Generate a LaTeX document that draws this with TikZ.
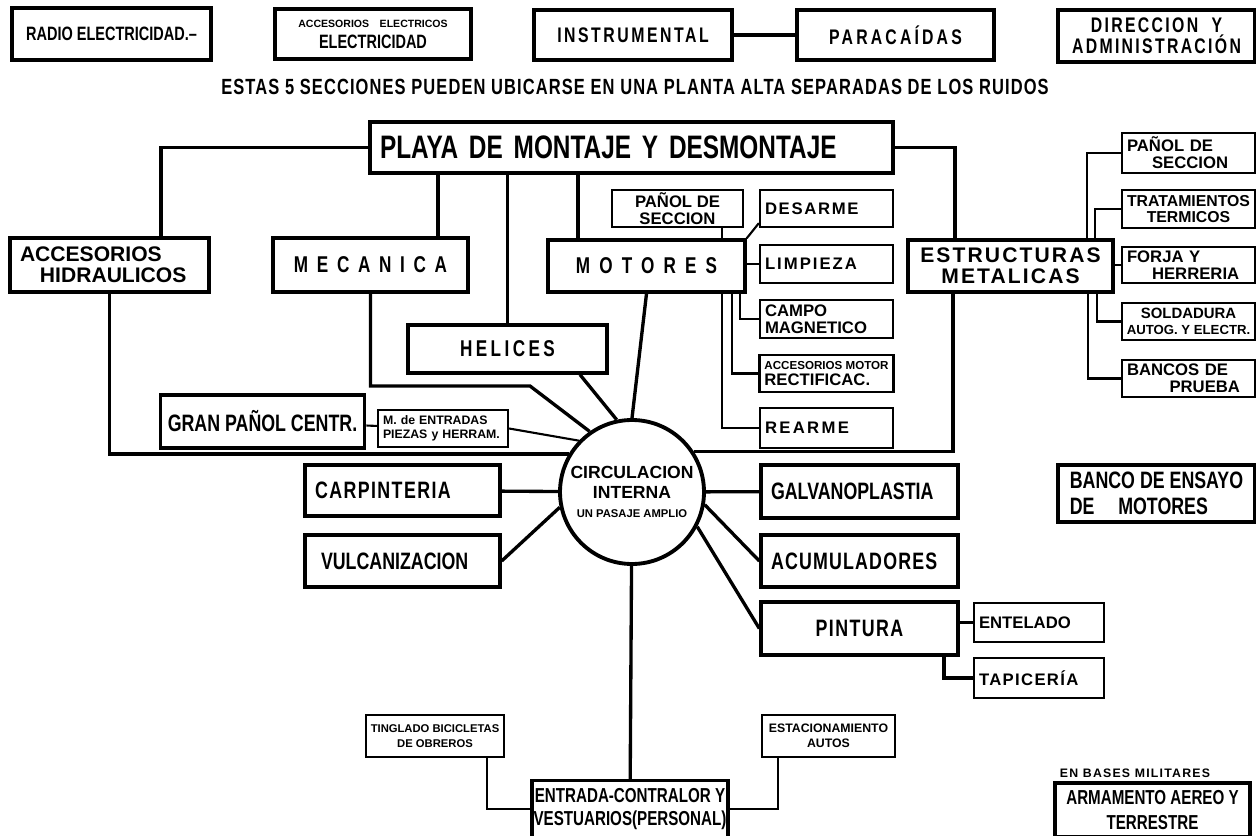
\documentclass[tikz,border=0pt]{standalone}
\usepackage{fontspec}
\usepackage{tikz}
\newfontfamily\handn[FakeStretch=0.75]{Liberation Sans}
\newfontfamily\handw{Liberation Sans}
\newcommand\hfont[2]{\handn\bfseries\fontsize{#1}{#2}\selectfont}
\newcommand\wfont[2]{\handw\bfseries\fontsize{#1}{#2}\selectfont}
\newcommand\lsp[1]{\addfontfeature{LetterSpace=#1}}

\begin{document}
\begin{tikzpicture}[
    x=1cm, y=1cm,
    box/.style={
      draw,
      line width=1.9pt,
      inner sep=0.15cm,
      minimum width=3.94cm,
      minimum height=1.04cm,
      align=center,
      font=\hfont{13.5}{15}
    },
    lbox/.style={box, align=left, inner xsep=0.2cm, text width=#1},
    sub/.style={
      draw,
      line width=1.3pt,
      inner xsep=0.1cm,
      inner ysep=0.04cm,
      minimum width=2.66cm,
      minimum height=0.76cm,
      align=center,
      font=\wfont{9.5}{9.5}
    },
    lsub/.style={sub, align=left, text width=#1},
    link/.style={line width=1.9pt},
    thin/.style={line width=1.2pt}
  ]
    \fill[white] (0,0) rectangle (25.12,-16.72);
    \useasboundingbox (0,0) rectangle (25.12,-16.72);

    \node[box, minimum width=3.98cm, font=\hfont{11}{12}] (radio) at (2.23,-0.68) {RADIO ELECTRICIDAD.–};
    \node[box, minimum width=3.92cm, minimum height=1.0cm, font=\hfont{11}{12}] (elec) at (7.46,-0.68) {{\wfont{6}{7}ACCESORIOS\quad ELECTRICOS}\\ELECTRICIDAD};
    \node[box, minimum width=3.96cm, minimum height=1.0cm, font=\hfont{12}{13}\lsp{12}] (instr) at (12.66,-0.70) {INSTRUMENTAL};
    \node[box, minimum height=1.0cm, font=\hfont{12}{13}\lsp{15}] (para) at (17.91,-0.70) {PARACAÍDAS};
    \node[box, inner xsep=0.05cm, font=\hfont{12}{10.5}\lsp{11}] (dir) at (23.13,-0.72) {DIRECCION\ \ Y\\ADMINISTRACIÓN};
    \draw[link] (instr) -- (para);
    \node[font=\hfont{12.5}{13}\lsp{5}] (note) at (12.70,-1.74) {ESTAS 5 SECCIONES PUEDEN UBICARSE EN UNA PLANTA ALTA SEPARADAS DE LOS RUIDOS};

    \node[lbox=10.06cm, minimum width=10.46cm, minimum height=1.02cm, font=\hfont{18.5}{20}] (playa) at (12.63,-2.95) {PLAYA DE MONTAJE Y DESMONTAJE};
    \node[lbox=3.58cm, minimum width=3.98cm, minimum height=1.08cm, font=\wfont{12}{12}] (acchid) at (2.19,-5.30) {ACCESORIOS\\\hspace*{0.4cm}HIDRAULICOS};
    \node[box, minimum width=3.9cm, minimum height=1.08cm, font=\hfont{13}{14}\lsp{38}] (mecanica) at (7.41,-5.30) {MECANICA};
    \node[box, font=\hfont{13}{14}\lsp{40}] (motores) at (12.93,-5.32) {MOTORES};
    \node[box, minimum width=4.1cm, font=\wfont{12}{12}\lsp{10}] (estruct) at (20.21,-5.32) {ESTRUCTURAS\\METALICAS};
    \node[box, minimum width=3.98cm, minimum height=0.96cm, font=\hfont{13}{14}\lsp{15}] (helices) at (10.15,-6.98) {HELICES};
    \node[box, minimum width=3.98cm, minimum height=1.06cm] (gpanol) at (5.25,-8.43) {GRAN PAÑOL CENTR.};
    \node[lsub=2.4cm, minimum width=2.6cm, minimum height=0.74cm, font=\wfont{7}{8}] (mentr) at (8.86,-8.57) {M. de ENTRADAS\\PIEZAS y HERRAM.};
    \node[lbox=3.5cm, minimum width=3.9cm, minimum height=1.02cm, font=\hfont{13.5}{15}\lsp{6}] (carp) at (8.05,-9.81) {CARPINTERIA};
    \node[lbox=3.5cm, minimum width=3.9cm] (vulc) at (8.05,-11.22) {\hspace*{0.12cm}VULCANIZACION};
    \node[circle, draw, line width=2.2pt, minimum size=2.88cm, inner sep=0pt, align=center, font=\wfont{10}{11}] (circ) at (12.64,-9.84) {CIRCULACION\\INTERNA\\{\wfont{6.4}{7}UN PASAJE AMPLIO}};
    \node[lbox=3.54cm, minimum height=1.06cm] (galv) at (17.19,-9.83) {GALVANOPLASTIA};
    \node[lbox=3.54cm, font=\hfont{13.5}{15}\lsp{5}] (acum) at (17.19,-11.22) {ACUMULADORES};
    \node[box, minimum height=1.06cm, font=\hfont{13.5}{15}\lsp{6}] (pint) at (17.19,-12.57) {PINTURA};
    \node[lsub=2.4cm, minimum width=2.6cm, minimum height=0.78cm] (entel) at (20.78,-12.45) {ENTELADO};
    \node[lsub=2.4cm, minimum width=2.6cm, minimum height=0.8cm, font=\wfont{9.5}{9.5}\lsp{8}] (tapic) at (20.78,-13.56) {TAPICERÍA};
    \node[box, align=left, minimum height=1.06cm, font=\hfont{13.5}{14.5}] (banco) at (23.13,-9.87) {BANCO DE ENSAYO\\DE\quad MOTORES};

    \node[box, minimum width=3.92cm, inner xsep=0.02cm, font=\hfont{11.5}{13.5}] (entrada) at (12.60,-16.18) {ENTRADA-CONTRALOR Y\\VESTUARIOS(PERSONAL)};
    \node[sub, minimum width=2.68cm, minimum height=0.84cm, font=\wfont{6.4}{8.5}] (tingl) at (8.70,-14.72) {TINGLADO BICICLETAS\\DE OBREROS};
    \node[sub, minimum height=0.84cm, font=\wfont{7}{8.5}] (estac) at (16.57,-14.72) {ESTACIONAMIENTO\\AUTOS};
    \node[font=\wfont{7}{8}\lsp{10}] (milit) at (22.70,-15.46) {EN BASES MILITARES};
    \node[box, minimum width=3.9cm, minimum height=1.08cm, font=\hfont{11.5}{14}] (armam) at (23.05,-16.20) {ARMAMENTO AEREO Y\\TERRESTRE};

    \node[sub, minimum width=2.62cm, minimum height=0.74cm] (mpanol) at (13.55,-4.17) {PAÑOL DE\\SECCION};
    \node[lsub=2.46cm, minimum height=0.74cm, font=\wfont{9.5}{9.5}\lsp{10}] (desarme) at (16.53,-4.17) {DESARME};
    \node[lsub=2.46cm, font=\wfont{9.5}{9.5}\lsp{12}] (limp) at (16.53,-5.28) {LIMPIEZA};
    \node[lsub=2.46cm] (campo) at (16.53,-6.38) {CAMPO\\MAGNETICO};
    \node[sub, align=left, minimum height=0.74cm] (accmot) at (16.53,-7.47) {{\wfont{6.6}{7}ACCESORIOS MOTOR}\\RECTIFICAC.};
    \node[lsub=2.46cm, minimum height=0.8cm, font=\wfont{9.5}{9.5}\lsp{14}] (rearme) at (16.53,-8.56) {REARME};

    \node[lsub=2.46cm, minimum height=0.8cm] (epanol) at (23.77,-3.06) {PAÑOL DE\\\hspace*{0.5cm}SECCION};
    \node[sub, font=\wfont{9}{9.5}] (tratam) at (23.77,-4.18) {TRATAMIENTOS\\TERMICOS};
    \node[lsub=2.46cm, minimum height=0.72cm] (forja) at (23.77,-5.30) {FORJA Y\\\hspace*{0.5cm}HERRERIA};
    \node[sub, minimum height=0.74cm, font=\wfont{8.5}{9}] (solda) at (23.77,-6.43) {SOLDADURA\\{\wfont{7.5}{8}AUTOG. Y ELECTR.}};
    \node[lsub=2.46cm, minimum height=0.74cm] (bancos) at (23.77,-7.57) {BANCOS DE\\\hspace*{0.85cm}PRUEBA};

    \coordinate (mecbend) at (10.60,-7.72);
    \draw[link] (playa.west) -| ([xshift=1.03cm]acchid.north);
    \draw[link] ([xshift=1.35cm]mecanica.north) -- ([xshift=1.35cm]mecanica.north |- playa.south);
    \draw[link] (helices.north) -- (helices.north |- playa.south);
    \draw[link] ([xshift=-1.37cm]motores.north) -- ([xshift=-1.37cm]motores.north |- playa.south);
    \draw[link] (playa.east) -| ([xshift=-1.11cm]estruct.north);
    \draw[link] (acchid.south) |- (circ.149);
    \draw[link] (mecanica.south) |- (mecbend) -- (circ.125);
    \draw[link] ([xshift=1.45cm]helices.south) -- (circ.102);
    \draw[link] (motores.south) -- (circ.north);
    \draw[link] ([xshift=-1.15cm]estruct.south) |- (circ.33);
    \draw[link] (carp) -- (circ);
    \draw[link] (vulc.east) -- (circ.192);
    \draw[link] (circ) -- (galv);
    \draw[link] (circ.-10) -- (acum.west);
    \draw[link] (circ.-28) -- (pint.west);
    \draw[link] (pint.east |- entel.west) -- (entel.west);
    \draw[link] ([xshift=1.69cm]pint.south) |- (tapic.west);
    \draw[link] (circ) -- (entrada);
    \draw[thin] ([xshift=1.04cm]tingl.south) |- (entrada.west);
    \draw[thin] (entrada.east) -| ([xshift=-1.01cm]estac.south);
    \draw[thin] (gpanol) -- (mentr);
    \draw[thin] (mentr.east) -- (circ.136);

    \draw[thin] ([xshift=0.89cm]mpanol.south) -- ([xshift=0.89cm]mpanol.south |- motores.north);
    \draw[thin] (motores.north east) -- ([yshift=0.1cm]desarme.south west);
    \draw[thin] (limp.west -| motores.east) -- (limp.west);
    \draw[thin] ([xshift=1.87cm]motores.south) |- (campo.west);
    \draw[thin] ([xshift=1.71cm]motores.south) |- (accmot.west);
    \draw[thin] ([xshift=1.51cm]motores.south) |- (rearme.west);

    \draw[thin] ([xshift=1.53cm]estruct.north) |- (epanol.west);
    \draw[thin] ([xshift=1.69cm]estruct.north) |- (tratam.west);
    \draw[thin] (forja.west -| estruct.east) -- (forja.west);
    \draw[thin] ([xshift=1.73cm]estruct.south) |- (solda.west);
    \draw[thin] ([xshift=1.55cm]estruct.south) |- (bancos.west);
  \end{tikzpicture}
\end{document}
